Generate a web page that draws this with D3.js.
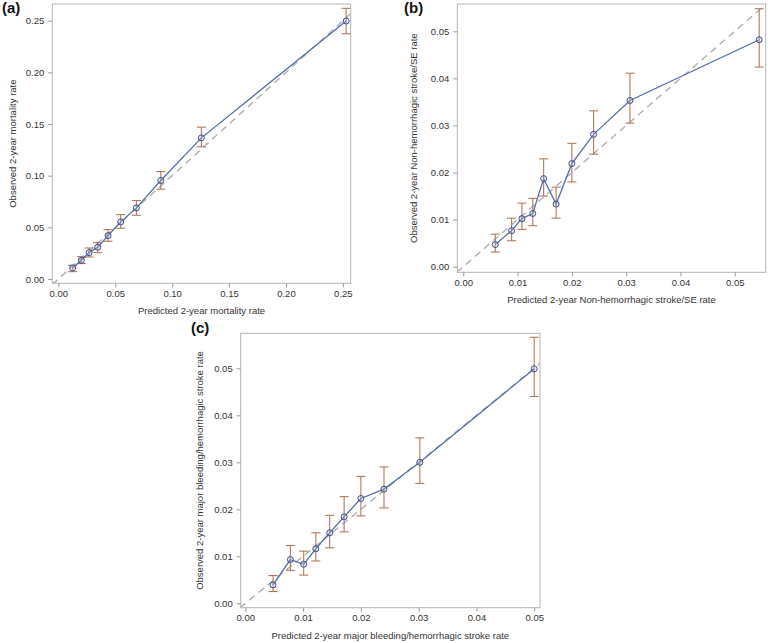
<!DOCTYPE html>
<html>
<head>
<meta charset="utf-8">
<script src="https://cdn.jsdelivr.net/npm/d3@7"></script>
<style>
  body { margin: 0; background: #fff; }
  svg { display: block; font-family: "Liberation Sans", Arial, sans-serif; }
</style>
</head>
<body>
<div id="chart"></div>
<script>
// panel (a) mortality
const predA = [0.0126, 0.0202, 0.027, 0.0346, 0.0437, 0.0548, 0.0686, 0.090, 0.1257, 0.2529];
const obsA  = [0.0107, 0.0181, 0.0255, 0.0307, 0.042, 0.0552, 0.0688, 0.0953, 0.1366, 0.2497];
const lowA  = [0.0071, 0.0149, 0.0213, 0.0255, 0.0365, 0.0491, 0.0617, 0.0869, 0.128, 0.2374];
const highA = [0.0132, 0.0216, 0.030, 0.0352, 0.0478, 0.0623, 0.0759, 0.104, 0.147, 0.262];
const ticksA = [0, 0.05, 0.10, 0.15, 0.20, 0.25];

// panel (b) non-hemorrhagic stroke/SE
const predB = [0.0059, 0.0089, 0.0108, 0.0128, 0.0148, 0.0171, 0.0200, 0.0240, 0.0307, 0.0545];
const obsB  = [0.0047, 0.00765, 0.0102, 0.0113, 0.0187, 0.0133, 0.0219, 0.0281, 0.0353, 0.0482];
const lowB  = [0.0031, 0.0055, 0.0079, 0.0087, 0.0150, 0.0103, 0.0180, 0.0239, 0.0305, 0.0424];
const highB = [0.0069, 0.0103, 0.0135, 0.0145, 0.0229, 0.0169, 0.0262, 0.0331, 0.0411, 0.0548];

// panel (c) major bleeding/hemorrhagic stroke
const predC = [0.0048, 0.0078, 0.0101, 0.0122, 0.0146, 0.0171, 0.0200, 0.0240, 0.0302, 0.0500];
const obsC  = [0.0039, 0.0093, 0.0083, 0.0116, 0.0150, 0.0184, 0.0223, 0.0243, 0.0300, 0.0499];
const lowC  = [0.0025, 0.0070, 0.0060, 0.0090, 0.0118, 0.0152, 0.0186, 0.0203, 0.0255, 0.0440];
const highC = [0.0059, 0.0123, 0.0111, 0.0150, 0.0187, 0.0227, 0.0270, 0.0290, 0.0352, 0.0566];
const ticksBC = [0, 0.01, 0.02, 0.03, 0.04, 0.05];

const svg = d3.select('#chart').append('svg')
    .attr('width', 768)
    .attr('height', 643);

const panels = [
    { id: 'a', label: '(a)', pred: predA, obs: obsA, low: lowA, high: highA, ticks: ticksA,
      frame: { left: 52.3, top: 4, right: 350.7, bottom: 283.3 },
      xdom: [-0.0053, 0.2569], ydom: [-0.0042, 0.2662],
      labelPos: [2, 13], ytitleX: 13,
      xtitle: 'Predicted 2-year mortality rate', ytitle: 'Observed 2-year mortality rate' },
    { id: 'b', label: '(b)', pred: predB, obs: obsB, low: lowB, high: highB, ticks: ticksBC,
      frame: { left: 457.3, top: 4, right: 765.7, bottom: 272.3 },
      xdom: [-0.0011, 0.0557], ydom: [-0.0012, 0.0558],
      labelPos: [404, 13], ytitleX: 414,
      xtitle: 'Predicted 2-year Non-hemorrhagic stroke/SE rate', ytitle: 'Observed 2-year Non-hemorrhagic stroke/SE rate' },
    { id: 'c', label: '(c)', pred: predC, obs: obsC, low: lowC, high: highC, ticks: ticksBC,
      frame: { left: 240.7, top: 333.3, right: 540, bottom: 607.7 },
      xdom: [-0.0008, 0.051], ydom: [-0.00094, 0.05745],
      labelPos: [191, 333], ytitleX: 199.5,
      xtitle: 'Predicted 2-year major bleeding/hemorrhagic stroke rate', ytitle: 'Observed 2-year major bleeding/hemorrhagic stroke rate' }
];

panels.forEach(p => {
    const f = p.frame;
    const x = d3.scaleLinear().domain(p.xdom).range([f.left, f.right]);
    const y = d3.scaleLinear().domain(p.ydom).range([f.bottom, f.top]);
    const g = svg.append('g');

    g.append('clipPath').attr('id', 'clip-' + p.id)
        .append('rect')
        .attr('x', f.left).attr('y', f.top)
        .attr('width', f.right - f.left).attr('height', f.bottom - f.top);

    // frame
    g.append('rect')
        .attr('x', f.left).attr('y', f.top)
        .attr('width', f.right - f.left).attr('height', f.bottom - f.top)
        .attr('fill', 'none')
        .attr('stroke', '#b4b4b4')
        .attr('stroke-width', 1);

    // axes
    const xAxis = g.append('g')
        .attr('transform', `translate(0,${f.bottom})`)
        .call(d3.axisBottom(x).tickValues(p.ticks).tickFormat(d3.format('.2f')).tickSize(4).tickPadding(3));
    const yAxis = g.append('g')
        .attr('transform', `translate(${f.left},0)`)
        .call(d3.axisLeft(y).tickValues(p.ticks).tickFormat(d3.format('.2f')).tickSize(4).tickPadding(4));
    [xAxis, yAxis].forEach(ax => {
        ax.select('.domain').remove();
        ax.selectAll('line').attr('stroke', '#9a9a9a');
        ax.selectAll('text')
            .attr('fill', '#333')
            .style('font-size', '9.5px')
            .style('font-family', '"Liberation Sans", Arial, sans-serif');
    });

    const plot = g.append('g').attr('clip-path', `url(#clip-${p.id})`);

    // reference diagonal
    const lo = Math.min(p.xdom[0], p.ydom[0]);
    const hi = Math.max(p.xdom[1], p.ydom[1]);
    plot.append('line')
        .attr('x1', x(lo)).attr('y1', y(lo))
        .attr('x2', x(hi)).attr('y2', y(hi))
        .attr('stroke', '#b0b0b0')
        .attr('stroke-width', 1.4)
        .attr('stroke-dasharray', '7,5');

    const pts = p.pred.map((v, i) => ({ x: v, y: p.obs[i], lo: p.low[i], hi: p.high[i] }));

    // error bars
    const eb = g.append('g').attr('stroke', '#b07a5a').attr('stroke-width', 1.1);
    eb.selectAll('line.v').data(pts).enter().append('line')
        .attr('x1', d => x(d.x)).attr('x2', d => x(d.x))
        .attr('y1', d => y(d.lo)).attr('y2', d => y(d.hi));
    eb.selectAll('line.t').data(pts).enter().append('line')
        .attr('x1', d => x(d.x) - 4.5).attr('x2', d => x(d.x) + 4.5)
        .attr('y1', d => y(d.hi)).attr('y2', d => y(d.hi));
    eb.selectAll('line.b').data(pts).enter().append('line')
        .attr('x1', d => x(d.x) - 4.5).attr('x2', d => x(d.x) + 4.5)
        .attr('y1', d => y(d.lo)).attr('y2', d => y(d.lo));

    // calibration line
    g.append('path')
        .datum(pts)
        .attr('fill', 'none')
        .attr('stroke', '#5470ab')
        .attr('stroke-width', 1.3)
        .attr('d', d3.line().x(d => x(d.x)).y(d => y(d.y)));

    // open circle markers, line shows through
    g.selectAll('circle.pt').data(pts).enter().append('circle')
        .attr('cx', d => x(d.x))
        .attr('cy', d => y(d.y))
        .attr('r', 3)
        .attr('fill', '#c6cce6')
        .attr('fill-opacity', 0.25)
        .attr('stroke', '#3d4a8c')
        .attr('stroke-width', 1);

    // titles
    g.append('text')
        .attr('x', (f.left + f.right) / 2)
        .attr('y', f.bottom + 31)
        .attr('text-anchor', 'middle')
        .attr('fill', '#333')
        .style('font-size', '9.5px')
        .text(p.xtitle);
    g.append('text')
        .attr('transform', `translate(${p.ytitleX},${(f.top + f.bottom) / 2}) rotate(-90)`)
        .attr('dy', '0.35em')
        .attr('text-anchor', 'middle')
        .attr('fill', '#333')
        .style('font-size', '9.5px')
        .text(p.ytitle);
    g.append('text')
        .attr('x', p.labelPos[0])
        .attr('y', p.labelPos[1])
        .attr('fill', '#111')
        .style('font-size', '15px')
        .style('font-weight', 'bold')
        .text(p.label);
});
</script>
</body>
</html>
